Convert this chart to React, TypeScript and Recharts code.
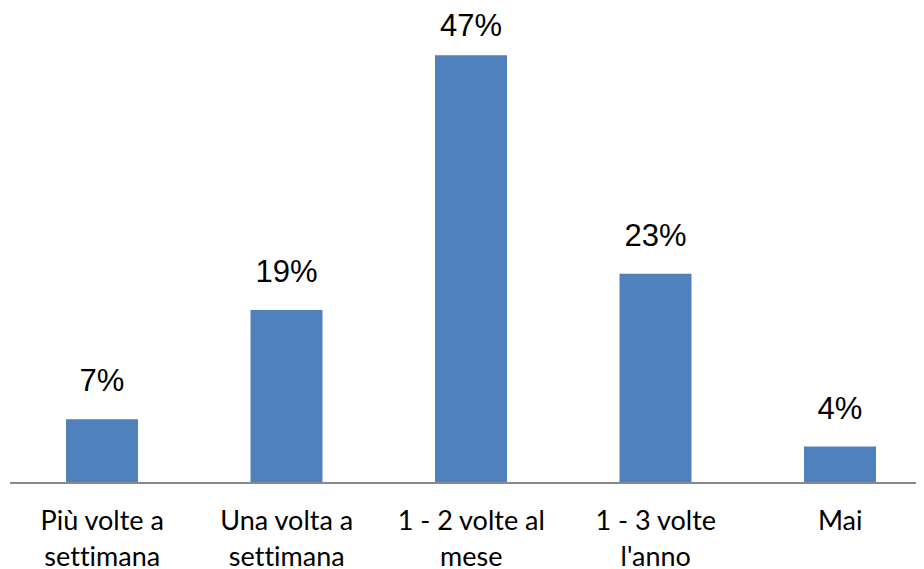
import React from "react";
import { BarChart, Bar, XAxis, YAxis, LabelList } from "recharts";

const categories = [
  "Più volte a\nsettimana",
  "Una volta a\nsettimana",
  "1 - 2 volte al\nmese",
  "1 - 3 volte\nl'anno",
  "Mai",
];
const values = [7, 19, 47, 23, 4];
const valueLabels = ["7%", "19%", "47%", "23%", "4%"];

const data = categories.map((c, i) => ({ name: c, value: values[i], label: valueLabels[i] }));

const CategoryTick = (props: any) => {
  const { x, y, payload } = props;
  const lines = String(payload.value).split("\n");
  return (
    <g>
      {lines.map((l, i) => (
        <text
          key={i}
          x={x}
          y={y + 39 + i * 36}
          textAnchor="middle"
          fontFamily="Lato, 'Open Sans', sans-serif"
          fontSize={27}
          fill="#000"
          style={{ fontVariantLigatures: "none" }}
        >
          {l}
        </text>
      ))}
    </g>
  );
};

const ValueLabel = (props: any) => {
  const { x, y, width, index } = props;
  const by = Math.max(Number(y) - 28, 28);
  return (
    <text
      x={Number(x) + Number(width) / 2}
      y={by}
      textAnchor="middle"
      fontFamily="'Liberation Sans', Arial, sans-serif"
      fontSize={31}
      fill="#000"
    >
      {valueLabels[index]}
    </text>
  );
};

export default function App() {
  return (
    <div style={{ width: 916, height: 561, overflow: "hidden" }}>
      <BarChart
        width={925}
        height={561}
        data={data}
        margin={{ top: 20, right: 0.5, bottom: 0, left: 2 }}
        barCategoryGap={0}
      >
        <XAxis
          dataKey="name"
          height={86}
          axisLine={{ stroke: "#898989", strokeWidth: 2 }}
          tickLine={false}
          tick={<CategoryTick />}
          interval={0}
        />
        <YAxis hide domain={[0, 50]} />
        <Bar dataKey="value" fill="#4F81BD" barSize={72} isAnimationActive={false}>
          <LabelList dataKey="value" content={<ValueLabel />} />
        </Bar>
      </BarChart>
    </div>
  );
}
